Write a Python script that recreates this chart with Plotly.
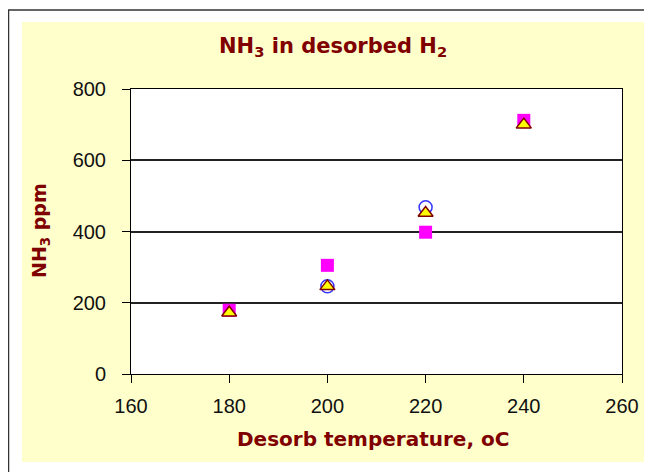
import plotly.graph_objects as go

temps = [180, 200, 220, 240]
series_square = [179, 305, 398, 712]
series_circle = [None, 246, 468, None]
series_triangle = [172, 246, 452, 700]

x_ticks = [160, 180, 200, 220, 240, 260]
y_ticks = [0, 200, 400, 600, 800]

title_text = "NH<sub>3</sub> in desorbed H<sub>2</sub>"
x_title = "Desorb temperature, oC"
y_title = "NH<sub>3</sub> ppm"

dark_red = "#800000"

# screen geometry of the plot area (browser body adds an 8px offset)
PL, PR, PT, PB = 131, 622, 89, 374


def px(sx):
    return (sx - PL) / (PR - PL)


def py(sy):
    return (PB - sy) / (PB - PT)


fig = go.Figure()
fig.add_trace(go.Scatter(x=temps, y=series_square, mode="markers",
                         marker=dict(symbol="square", size=13, color="#FF00FF",
                                     line=dict(width=0)), showlegend=False))
fig.add_trace(go.Scatter(x=temps, y=series_circle, mode="markers",
                         marker=dict(symbol="circle-open", size=13, color="#3333FF",
                                     line=dict(width=1.5)), showlegend=False))
fig.add_trace(go.Scatter(x=temps, y=series_triangle, mode="markers",
                         marker=dict(symbol="triangle-up", size=13, color="#FFFF00",
                                     line=dict(width=1.5, color="#800000")), showlegend=False))

font_axis = dict(family="Liberation Sans, Arial", size=20, color="#111111")
font_title = "DejaVu Sans, Liberation Sans, Arial"

fig.update_layout(
    width=652, height=472,
    margin=dict(l=PL - 8, r=8 + 652 - PR, t=PT - 8, b=8 + 472 - PB),
    paper_bgcolor="white",
    plot_bgcolor="white",
    xaxis=dict(range=[160, 260], tickvals=x_ticks, ticks="outside", ticklen=8,
               tickcolor="black", showline=True, linecolor="black", linewidth=1,
               mirror=True, showgrid=False, zeroline=False, tickfont=font_axis,
               ticklabelstandoff=6),
    yaxis=dict(range=[0, 800], tickvals=y_ticks, ticks="outside", ticklen=8,
               tickcolor="black", showline=True, linecolor="black", linewidth=1,
               mirror=True, showgrid=True, gridcolor="#222222", gridwidth=1.5,
               zeroline=False, tickfont=font_axis, ticklabelstandoff=12),
    shapes=[
        dict(type="rect", xref="paper", yref="paper", x0=px(8.5), x1=px(700),
             y0=py(520), y1=py(10), line=dict(color="#333333", width=1.5),
             fillcolor="white", layer="below"),
        dict(type="rect", xref="paper", yref="paper", x0=px(22), x1=px(648),
             y0=py(462), y1=py(22), line=dict(width=0),
             fillcolor="#FFFFCC", layer="below"),
        dict(type="rect", xref="paper", yref="paper", x0=0, x1=1, y0=0, y1=1,
             line=dict(width=0), fillcolor="white", layer="below"),
    ],
    annotations=[
        dict(text="<b>" + title_text + "</b>", xref="paper", yref="paper",
             x=px(333), y=py(47), showarrow=False,
             xanchor="center", yanchor="middle",
             font=dict(family=font_title, size=21, color=dark_red)),
        dict(text="<b>" + x_title + "</b>", xref="paper", yref="paper",
             x=px(373), y=py(439), showarrow=False,
             xanchor="center", yanchor="middle",
             font=dict(family=font_title, size=20, color=dark_red)),
        dict(text="<b>" + y_title + "</b>", xref="paper", yref="paper",
             x=px(40), y=py(231), showarrow=False,
             textangle=-90, xanchor="center", yanchor="middle",
             font=dict(family=font_title, size=19, color=dark_red)),
    ],
)

fig.write_html("out.html")
